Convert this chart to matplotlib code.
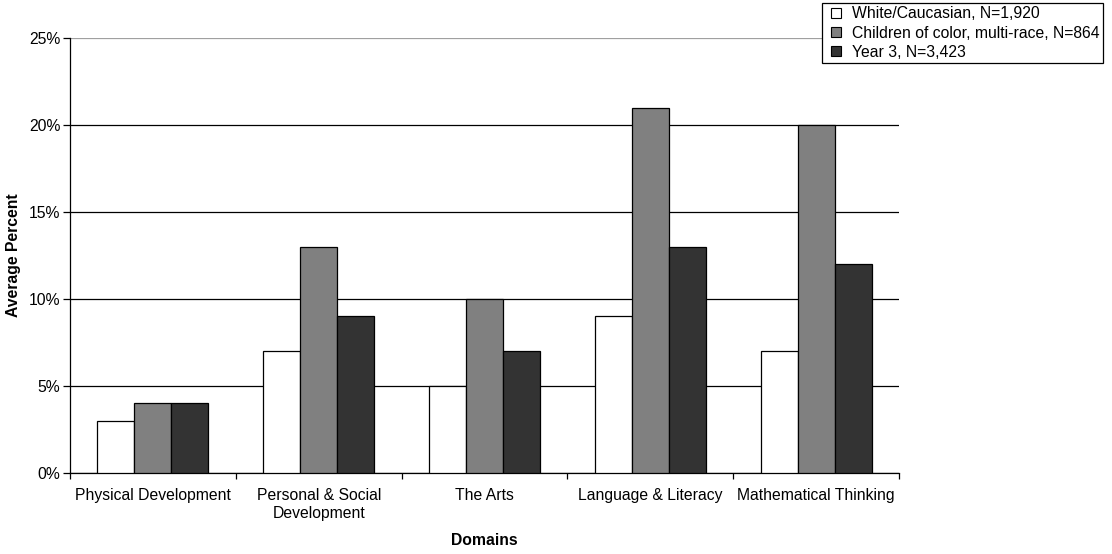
import numpy as np
import matplotlib.pyplot as plt
from matplotlib.lines import Line2D
from matplotlib.ticker import FixedLocator, PercentFormatter

plt.rcParams['font.family'] = ['Liberation Sans', 'DejaVu Sans']

# Data
domains = ['Physical Development', 'Personal & Social\nDevelopment', 'The Arts',
           'Language & Literacy', 'Mathematical Thinking']
series_names = ['White/Caucasian, N=1,920', 'Children of color, multi-race, N=864',
                'Year 3, N=3,423']
white = [3, 7, 5, 9, 7]
color_kids = [4, 13, 10, 21, 20]
year3 = [4, 9, 7, 13, 12]
fills = ['#ffffff', '#808080', '#333333']

fig = plt.figure(figsize=(11.12, 5.54), dpi=100)
ax = fig.add_axes([0.063, 0.1462, 0.7455, 0.7852])

x = np.arange(len(domains))
w = 0.223
for i, (vals, fc) in enumerate(zip([white, color_kids, year3], fills)):
    ax.bar(x + (i - 1) * w, vals, width=w, color=fc, edgecolor='black',
           linewidth=0.9, zorder=3)

ax.set_xlim(-0.5, len(domains) - 0.5)
ax.set_ylim(0, 25)
ax.set_yticks([0, 5, 10, 15, 20, 25])
ax.yaxis.set_major_formatter(PercentFormatter(decimals=0))
ax.grid(axis='y', color='black', linewidth=0.9, zorder=0)
ax.yaxis.get_gridlines()[-1].set_color('#a0a0a0')

# categories labelled at centres, tick marks at boundaries
ax.set_xticks(x)
ax.set_xticklabels(domains, fontsize=11.3)
ax.xaxis.set_minor_locator(FixedLocator(np.arange(len(domains) + 1) - 0.5))
ax.tick_params(axis='x', which='major', length=0, pad=11)
ax.tick_params(axis='x', which='minor', length=4, width=0.9)
ax.tick_params(axis='y', length=5, width=0.9, labelsize=11.3, pad=2)

for s in ['top', 'right']:
    ax.spines[s].set_visible(False)
for s in ['left', 'bottom']:
    ax.spines[s].set_linewidth(0.9)

ax.set_xlabel('Domains', fontsize=11.3, fontweight='bold', labelpad=9)
ax.set_ylabel('Average Percent', fontsize=11.3, fontweight='bold', labelpad=6)

# legend with small square swatches
handles = [Line2D([0], [0], linestyle='none', marker='s', markersize=7.5,
                  markerfacecolor=fc, markeredgecolor='black', markeredgewidth=0.8)
           for fc in fills]
leg = fig.legend(handles, series_names, loc='upper left', bbox_to_anchor=(0.7392, 0.9946),
                 fontsize=11.3, fancybox=False, framealpha=1, edgecolor='black',
                 handlelength=1.4, handletextpad=0.3,
                 borderpad=0.22, labelspacing=0.27, borderaxespad=0)
leg.get_frame().set_linewidth(0.9)

fig.savefig('out.png', dpi=100)
